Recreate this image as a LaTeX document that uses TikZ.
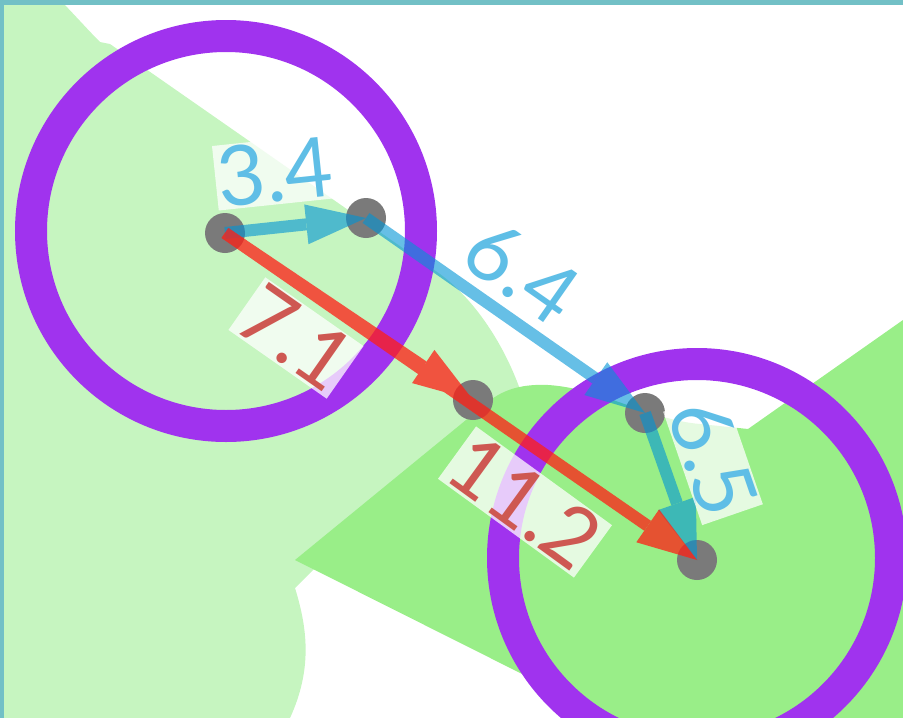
\documentclass[tikz,border=0pt]{standalone}
\usepackage{fontspec}
\setmainfont{Lato}
\usepackage{tikz}
\usetikzlibrary{arrows.meta}

\definecolor{frameteal}{RGB}{114,192,198}
\definecolor{palegreen}{RGB}{198,245,192}
\definecolor{brightgreen}{RGB}{153,238,136}
\definecolor{ringpurple}{RGB}{160,51,238}
\definecolor{dotgray}{RGB}{122,122,122}
\definecolor{arrowblue}{RGB}{0,148,213}
\definecolor{arrowred}{RGB}{255,30,20}
\definecolor{textblue}{RGB}{95,190,230}
\definecolor{textred}{RGB}{206,88,82}

\begin{document}
\begin{tikzpicture}[x=1pt, y=-1pt,
    dot/.style={circle, fill=dotgray, minimum size=40pt, inner sep=0pt},
    ring/.style={draw=ringpurple, line width=32pt},
    glass/.style={transparency group, opacity=#1},
    bluearrow/.style={draw=arrowblue, line width=12pt, -{Triangle[length=60pt,width=40pt,line width=0pt]}},
    redarrow/.style={draw=arrowred, line width=12pt, -{Triangle[length=60pt,width=40pt,line width=0pt]}},
    lbl/.style={fill=white, fill opacity=0.75, text opacity=1, inner sep=2pt, font=\fontsize{83}{90}\selectfont}
]
\useasboundingbox (0,0) rectangle (903,718);

% Regions
\fill[palegreen] (0,0) -- (60,0) .. controls (72,12) and (88,30) .. (100,42) -- (110,44)
    -- (440,274) .. controls (475,300) and (505,345) .. (522,395) -- (480,480) -- (313,570)
    -- (295,588) .. controls (308,630) and (312,670) .. (290,718) -- (0,718) -- cycle;
\fill[brightgreen] (295,560) -- (488,402) .. controls (505,388) and (525,384) .. (548,385)
    .. controls (600,388) and (650,420) .. (700,424) -- (748,429) -- (903,320)
    -- (903,718) -- (600,718) -- (560,693) -- cycle;

% Nodes
\node[dot] (A) at (225,233) {};
\node[dot] (B) at (366,218) {};
\node[dot] (C) at (473,400) {};
\node[dot] (D) at (645,413) {};
\node[dot] (E) at (697,560) {};

% Rings
\draw[ring] (226,231) circle[radius=195pt];
\draw[ring] (697,558) circle[radius=194pt];

% Arrows
\begin{scope}[glass=0.6]
\draw[bluearrow] (A.center) -- (B.center);
\end{scope}
\begin{scope}[glass=0.6]
\draw[bluearrow] (B.center) -- (D.center);
\end{scope}
\begin{scope}[glass=0.6]
\draw[bluearrow] (D.center) -- (E.center);
\end{scope}
\begin{scope}[glass=0.75]
\draw[redarrow] (A.center) -- (C.center);
\draw[redarrow] (A.center) -- (E.center);
\end{scope}

% Labels
\node[lbl, text=textblue, rotate=6] (lAB) at (275,172) {3.4};
\node[lbl, text=textblue, rotate=-35] (lBD) at (522,272) {6.4};
\node[lbl, text=textblue, rotate=-71] (lDE) at (713,458) {6.5};
\node[lbl, text=textred, rotate=-35] (lAC) at (296,338) {7.1};
\node[lbl, text=textred, rotate=-36] (lAE) at (525,502) {11.2};

% Frame
\fill[frameteal] (0,0) rectangle (903,5);
\fill[frameteal] (0,0) rectangle (4,718);

\end{tikzpicture}
\end{document}
